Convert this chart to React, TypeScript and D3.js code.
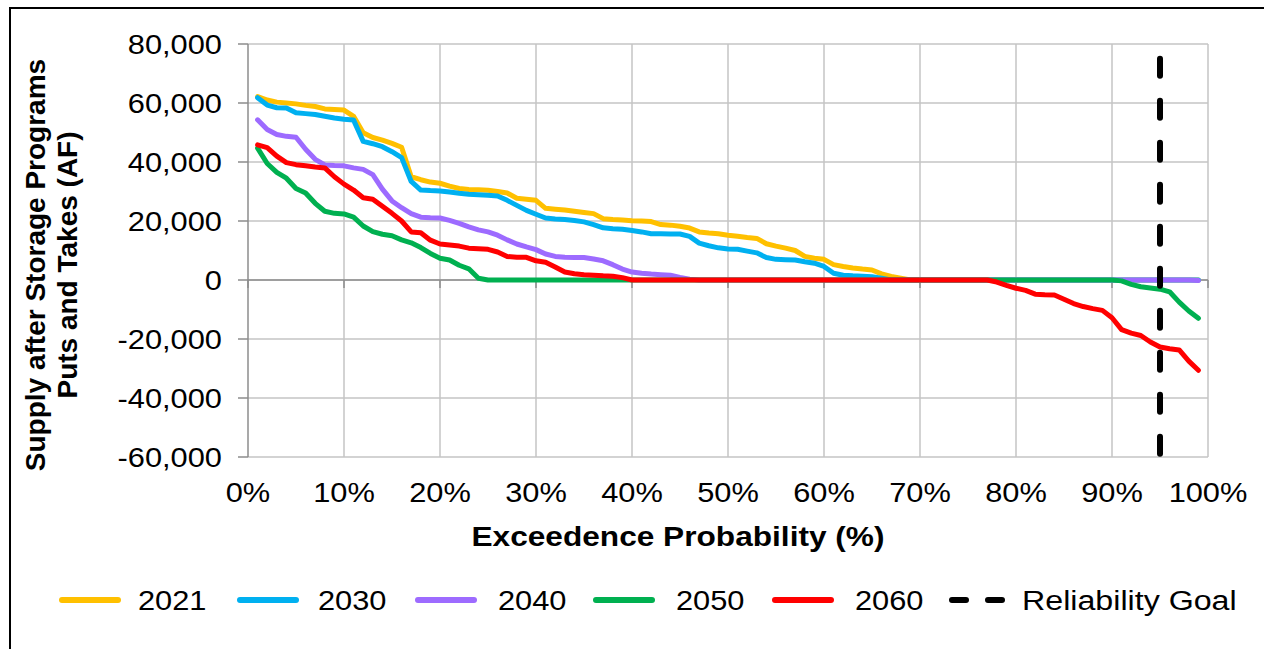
import React from "react";
import * as d3 from "d3";

// Exceedance probability categories (%)
const exceedance: number[] = Array.from({ length: 99 }, (_, i) => i + 1);

const s2021: number[] = [
  62200, 61000, 60300, 60000, 59700, 59200, 58800, 58000, 57800, 57600,
  55500, 49900, 48300, 47400, 46300, 45000, 35000, 34000, 33200, 32800,
  31800, 31000, 30700, 30600, 30400, 30000, 29500, 27700, 27400, 27000,
  24300, 24000, 23700, 23300, 22900, 22500, 20800, 20500, 20300, 20100,
  20000, 19800, 18800, 18600, 18200, 17600, 16300, 15900, 15700, 15200,
  14800, 14400, 14100, 12300, 11500, 10800, 10000, 8000, 7400, 7000,
  5200, 4600, 4100, 3700, 3400, 2100, 1200, 600, 0, 0,
  0, 0, 0, 0, 0, 0, 0, 0, 0, 0,
  0, 0, 0, 0, 0, 0, 0, 0, 0, 0,
  0, 0, 0, 0, 0, 0, 0, 0, 0,
];

const s2030: number[] = [
  61800, 59300, 58400, 58300, 56700, 56400, 56100, 55500, 54900, 54500,
  54200, 47000, 46200, 45200, 43500, 41500, 33400, 30500, 30300, 30200,
  29800, 29400, 29100, 28900, 28700, 28500, 27000, 25300, 23600, 22300,
  21000, 20700, 20500, 20200, 19700, 18800, 17700, 17400, 17200, 16800,
  16300, 15700, 15700, 15600, 15600, 14800, 12500, 11600, 10900, 10500,
  10400, 9800, 9200, 7600, 7000, 6900, 6800, 6200, 5700, 4600,
  2300, 1600, 1400, 1300, 1100, 600, 0, 0, 0, 0,
  0, 0, 0, 0, 0, 0, 0, 0, 0, 0,
  0, 0, 0, 0, 0, 0, 0, 0, 0, 0,
  0, 0, 0, 0, 0, 0, 0, 0, 0,
];

const s2040: number[] = [
  54300, 51000, 49300, 48700, 48400, 44300, 40900, 39000, 38800, 38700,
  38000, 37500, 35700, 30800, 26800, 24500, 22500, 21300, 21100, 21000,
  20200, 19200, 18000, 17000, 16300, 15200, 13600, 12200, 11200, 10300,
  8800, 8000, 7700, 7600, 7600, 7100, 6500, 5200, 3700, 2700,
  2300, 2000, 1800, 1600, 900, 300, 0, 0, 0, 0,
  0, 0, 0, 0, 0, 0, 0, 0, 0, 0,
  0, 0, 0, 0, 0, 0, 0, 0, 0, 0,
  0, 0, 0, 0, 0, 0, 0, 0, 0, 0,
  0, 0, 0, 0, 0, 0, 0, 0, 0, 0,
  0, 0, 0, 0, 0, 0, 0, 0, -200,
];

const s2050: number[] = [
  44700, 39500, 36500, 34500, 31000, 29500, 26000, 23300, 22600, 22400,
  21300, 18300, 16400, 15500, 15000, 13600, 12600, 11000, 9000, 7400,
  6800, 5000, 3800, 600, 0, 0, 0, 0, 0, 0,
  0, 0, 0, 0, 0, 0, 0, 0, 0, 0,
  0, 0, 0, 0, 0, 0, 0, 0, 0, 0,
  0, 0, 0, 0, 0, 0, 0, 0, 0, 0,
  0, 0, 0, 0, 0, 0, 0, 0, 0, 0,
  0, 0, 0, 0, 0, 0, 0, 0, 0, 0,
  0, 0, 0, 0, 0, 0, 0, 0, 0, 0,
  -300, -1500, -2300, -2700, -3100, -4000, -7500, -10500, -13000,
];

const s2060: number[] = [
  45800, 44900, 42000, 39800, 39100, 38700, 38300, 38000, 35000, 32500,
  30500, 27900, 27400, 25000, 22600, 20000, 16300, 16000, 13500, 12200,
  11900, 11500, 10800, 10600, 10400, 9500, 8000, 7700, 7700, 6500,
  6000, 4400, 2700, 2100, 1800, 1600, 1400, 1300, 800, 0,
  0, 0, 0, 0, 0, 0, 0, 0, 0, 0,
  0, 0, 0, 0, 0, 0, 0, 0, 0, 0,
  0, 0, 0, 0, 0, 0, 0, 0, 0, 0,
  0, 0, 0, 0, 0, 0, 0, -700, -1800, -2800,
  -3500, -4800, -5000, -5100, -6500, -8000, -9000, -9700, -10300, -12800,
  -16800, -18000, -18800, -21000, -22700, -23300, -23700, -27500, -30600,
];

const seriesNames: string[] = ["2021", "2030", "2040", "2050", "2060"];
const seriesValues: number[][] = [s2021, s2030, s2040, s2050, s2060];
const seriesColors: string[] = ["#FFC000", "#00B0F0", "#9D6BFF", "#00B050", "#FF0000"];

const reliabilityGoalX = 95;
const reliabilityGoalRange: number[] = [75000, -60000];
const reliabilityLabel = "Reliability Goal";

const yTicks: number[] = [-60000, -40000, -20000, 0, 20000, 40000, 60000, 80000];
const xTicks: number[] = [0, 10, 20, 30, 40, 50, 60, 70, 80, 90, 100];

const yTitleLines: string[] = ["Supply after Storage Programs", "Puts and Takes (AF)"];
const xTitle = "Exceedence Probability (%)";

const FONT = "'Liberation Sans', Arial, Helvetica, sans-serif";
const FS = 28;

function SText(props: {
  x: number;
  y: number;
  anchor?: "start" | "middle" | "end";
  dy?: string;
  bold?: boolean;
  sx?: number;
  children: React.ReactNode;
}) {
  const { x, y, anchor = "start", dy, bold, sx = 1.1, children } = props;
  return (
    <text
      transform={`translate(${x},${y}) scale(${sx},1)`}
      dy={dy}
      textAnchor={anchor}
      fontFamily={FONT}
      fontSize={FS}
      fontWeight={bold ? "bold" : "normal"}
      fill="#000"
    >
      {children}
    </text>
  );
}

export default function App() {
  const W = 1264;
  const H = 649;
  const left = 248;
  const right = 1208;
  const top = 44;
  const bottom = 457;

  const x = d3.scaleLinear().domain([0, 100]).range([left, right]);
  const y = d3.scaleLinear().domain([-60000, 80000]).range([bottom, top]);
  const fmt = (v: number) => d3.format(",")(v).replace("\u2212", "-");

  const line = d3
    .line<number>()
    .x((_, i) => x(exceedance[i]))
    .y((d) => y(d));

  const legendItems = [
    { lx: 62, tx: 138 },
    { lx: 240, tx: 318 },
    { lx: 418, tx: 498 },
    { lx: 596, tx: 676 },
    { lx: 775, tx: 855 },
  ];
  const legendY = 600;

  return (
    <div style={{ position: "fixed", left: 0, top: 0, width: W, height: H, background: "#fff" }}>
      <svg width={W} height={H} style={{ display: "block" }}>
        <rect x={0} y={0} width={W} height={H} fill="#fff" />
        <rect x={10} y={8} width={W + 20} height={H + 20} fill="none" stroke="#000" strokeWidth={2} />

        {/* horizontal gridlines */}
        {yTicks.map((t) => (
          <line key={"hg" + t} x1={left} x2={right} y1={y(t)} y2={y(t)} stroke="#c4c4c4" strokeWidth={1.5} />
        ))}
        {/* vertical gridlines */}
        {xTicks.filter((t) => t > 0).map((t) => (
          <line key={"vg" + t} x1={x(t)} x2={x(t)} y1={top} y2={bottom} stroke="#c4c4c4" strokeWidth={1.5} />
        ))}
        {/* y axis */}
        <line x1={left} x2={left} y1={top} y2={bottom} stroke="#8c8c8c" strokeWidth={1.5} />
        {yTicks.map((t) => (
          <line key={"yt" + t} x1={left - 10} x2={left} y1={y(t)} y2={y(t)} stroke="#8c8c8c" strokeWidth={1.5} />
        ))}
        {/* x axis at zero */}
        <line x1={left} x2={right} y1={y(0)} y2={y(0)} stroke="#8c8c8c" strokeWidth={1.5} />
        {xTicks.map((t) => (
          <line key={"xt" + t} x1={x(t)} x2={x(t)} y1={y(0)} y2={y(0) + 8} stroke="#8c8c8c" strokeWidth={1.5} />
        ))}

        {/* tick labels */}
        {yTicks.map((t) => (
          <SText key={"yl" + t} x={222} y={y(t)} dy="0.36em" anchor="end">
            {fmt(t)}
          </SText>
        ))}
        {xTicks.map((t) => (
          <SText key={"xl" + t} x={x(t)} y={502} anchor="middle">
            {t + "%"}
          </SText>
        ))}

        {/* series */}
        {seriesValues.map((vals, i) => (
          <path
            key={seriesNames[i]}
            d={line(vals) || ""}
            fill="none"
            stroke={seriesColors[i]}
            strokeWidth={5}
            strokeLinejoin="round"
            strokeLinecap="round"
          />
        ))}

        {/* reliability goal */}
        <line
          x1={x(reliabilityGoalX)}
          x2={x(reliabilityGoalX)}
          y1={y(reliabilityGoalRange[0])}
          y2={y(reliabilityGoalRange[1])}
          stroke="#000"
          strokeWidth={6}
          strokeDasharray="17,25"
          strokeLinecap="round"
        />

        {/* axis titles */}
        <SText x={678} y={546} anchor="middle" bold sx={1.13}>
          {xTitle}
        </SText>
        {yTitleLines.map((t, i) => (
          <text
            key={t}
            transform={`translate(${45 + i * 32},265) rotate(-90)`}
            textAnchor="middle"
            fontFamily={FONT}
            fontWeight="bold"
            fontSize={FS}
            fill="#000"
          >
            {t}
          </text>
        ))}

        {/* legend */}
        {legendItems.map((it, i) => (
          <g key={"lg" + i}>
            <line x1={it.lx} x2={it.lx + 56} y1={legendY} y2={legendY} stroke={seriesColors[i]} strokeWidth={6} strokeLinecap="round" />
            <SText x={it.tx} y={legendY} dy="0.36em">
              {seriesNames[i]}
            </SText>
          </g>
        ))}
        <line x1={952} x2={1002} y1={legendY} y2={legendY} stroke="#000" strokeWidth={6} strokeDasharray="14,22" strokeLinecap="round" />
        <SText x={1022} y={legendY} dy="0.36em" sx={1.15}>
          {reliabilityLabel}
        </SText>
      </svg>
    </div>
  );
}
